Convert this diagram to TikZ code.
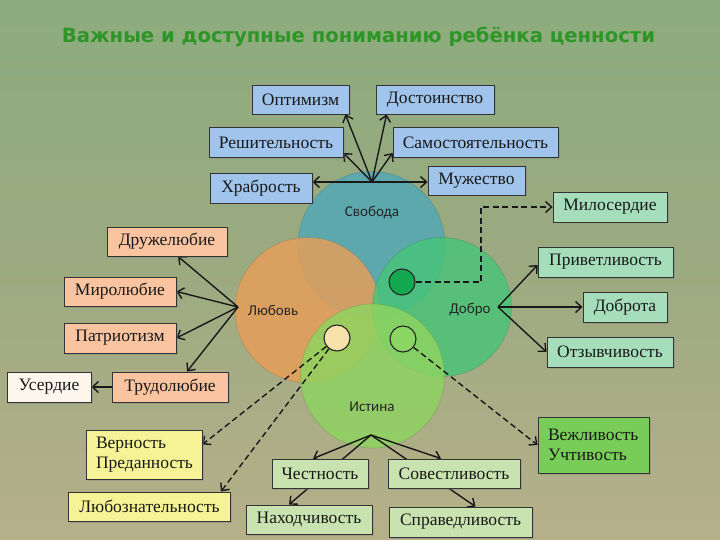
\documentclass[tikz,border=0pt]{standalone}
\usepackage{fontspec}
\setmainfont{Liberation Serif}
\newfontfamily\circfont{Carlito}
\newfontfamily\titlefont{DejaVu Sans}
\usetikzlibrary{arrows.meta,shadows,calc}
\pgfdeclarelayer{circ}
\pgfdeclarelayer{bg}
\pgfsetlayers{circ,bg,main}
\definecolor{bgtop}{RGB}{140,172,126}
\definecolor{bgmid}{RGB}{156,170,128}
\definecolor{bgbot}{RGB}{182,176,138}
\definecolor{titlegreen}{RGB}{46,150,38}
\definecolor{cblue}{RGB}{160,196,236}
\definecolor{cpeach}{RGB}{250,196,160}
\definecolor{ccream}{RGB}{252,246,236}
\definecolor{cmint}{RGB}{166,222,188}
\definecolor{cyellow}{RGB}{246,242,150}
\definecolor{cvgreen}{RGB}{120,204,88}
\definecolor{clgreen}{RGB}{200,226,176}
\definecolor{csvob}{RGB}{80,168,184}
\definecolor{clyub}{RGB}{232,158,88}
\definecolor{cdobr}{RGB}{72,196,120}
\definecolor{cist}{RGB}{142,212,96}
\definecolor{sdark}{RGB}{20,168,80}
\definecolor{sbeige}{RGB}{246,226,170}
\definecolor{slight}{RGB}{140,214,100}
\tikzset{
  box/.style={draw=black!80, line width=0.9pt, minimum height=29pt, inner sep=2pt,
    font=\fontsize{17.5}{20}\selectfont, text=black!90,
    drop shadow={shadow xshift=1.5pt, shadow yshift=-1.5pt, opacity=0.35}},
  bigc/.style={fill opacity=0.82, draw opacity=0.3, line width=0.6pt},
  clabel/.style={font=\circfont\fontsize{15}{17}\selectfont, text=black!85},
  smallc/.style={circle, draw=black!85, line width=1.1pt, minimum size=26pt, inner sep=0pt},
  arr/.style={line width=1.4pt, draw=black!90, -{Straight Barb[length=6pt,width=11pt]}},
  darr/.style={arr, dash pattern=on 6pt off 3.5pt}
}
\begin{document}
\begin{tikzpicture}[x=1pt,y=-1pt]
\useasboundingbox (0,0) rectangle (720,540);
\begin{pgfonlayer}{circ}
\shade[top color=bgtop, bottom color=bgbot, middle color=bgmid] (0,0) rectangle (720,540);
\fill[csvob, bigc, draw=csvob!60!black] (371.5,245) circle[radius=73.5];
\fill[clyub, bigc, draw=clyub!60!black] (307.5,310) circle[radius=72.5];
\fill[cdobr, bigc, draw=cdobr!60!black] (442,307) circle[radius=69.5];
\fill[cist, bigc, draw=cist!60!black] (372.5,376) circle[radius=72];
\node[clabel] (lsvob) at (372,213) {Свобода};
\node[clabel] (llyub) at (273,310) {Любовь};
\node[clabel] (ldobr) at (470,310) {Добро};
\node[clabel] (list) at (372,407) {Истина};
\end{pgfonlayer}

\node[anchor=center] (title) at (358.5,37) {\resizebox{593pt}{!}{\titlefont\bfseries\color{titlegreen}Важные и доступные пониманию ребёнка ценности}};

% small circles
\node[smallc, fill=sdark] (gd) at (402,282) {};
\node[smallc, fill=sbeige] (gb) at (337,338) {};
\node[smallc, fill=slight] (gl) at (403,339) {};

% hubs
\coordinate (hubS) at (372,182);
\coordinate (hubL) at (238,307);
\coordinate (hubD) at (498,307);
\coordinate (hubI) at (371,435);
\coordinate (dk) at (481,207);

% blue boxes
\node[box, fill=cblue, minimum width=97pt] (opt) at (300.5,99.5) {Оптимизм};
\node[box, fill=cblue, minimum width=118pt] (dost) at (435,99.5) {Достоинство};
\node[box, fill=cblue, minimum width=134pt, minimum height=30pt] (resh) at (276,142.5) {Решительность};
\node[box, fill=cblue, minimum width=165pt, minimum height=30pt] (samo) at (475.5,142.5) {Самостоятельность};
\node[box, fill=cblue, minimum width=102pt, minimum height=30pt] (hrab) at (261,188) {Храбрость};
\node[box, fill=cblue, minimum width=97pt] (muzh) at (476.5,180.5) {Мужество};

% peach boxes
\node[box, fill=cpeach, minimum width=120pt] (druzh) at (167,241.5) {Дружелюбие};
\node[box, fill=cpeach, minimum width=112pt] (mir) at (120,291.5) {Миролюбие};
\node[box, fill=cpeach, minimum width=112pt, minimum height=30pt] (patr) at (120,338) {Патриотизм};
\node[box, fill=cpeach, minimum width=116pt, minimum height=30pt] (trud) at (170,387) {Трудолюбие};
\node[box, fill=ccream, minimum width=84pt, minimum height=30pt] (userd) at (49,387) {Усердие};

% mint boxes
\node[box, fill=cmint, minimum width=114pt, minimum height=30pt] (milo) at (610,207) {Милосердие};
\node[box, fill=cmint, minimum width=135pt, minimum height=30pt] (priv) at (605.5,262) {Приветливость};
\node[box, fill=cmint, minimum width=84pt, minimum height=30pt] (dobr) at (625,307) {Доброта};
\node[box, fill=cmint, minimum width=126pt, minimum height=30pt] (otz) at (610,352) {Отзывчивость};

% yellow boxes
\node[box, fill=cyellow, minimum width=116pt, minimum height=49pt, align=left, text width=96pt, inner xsep=10pt, inner ysep=4pt] (vern) at (144,454.5) {Верность\\Преданность};
\node[box, fill=cyellow, minimum width=162pt] (lyub) at (149.5,506.5) {Любознательность};
\node[box, fill=cvgreen, minimum width=111pt, minimum height=56pt, align=left, text width=91pt, inner xsep=10pt, inner ysep=4pt] (vezh) at (593.5,445) {Вежливость\\Учтивость};

% light green boxes
\node[box, fill=clgreen, minimum width=96pt] (chest) at (320,473.5) {Честность};
\node[box, fill=clgreen, minimum width=132pt] (sovest) at (454,473.5) {Совестливость};
\node[box, fill=clgreen, minimum width=126pt] (nakh) at (309,519.5) {Находчивость};
\node[box, fill=clgreen, minimum width=143pt, minimum height=30pt] (sprav) at (460.5,522) {Справедливость};

\begin{pgfonlayer}{bg}
% Svoboda
\draw[arr] (hubS) -- ([xshift=-4pt]opt.south east);
\draw[arr] (hubS) -- ([xshift=11pt]dost.south west);
\draw[arr] (hubS) -- ([yshift=5pt]resh.south east);
\draw[arr] (hubS) -- ([yshift=5pt]samo.south west);
\draw[arr] (hubS) -- (hubS -| hrab.east);
\draw[arr] (hubS) -- (hubS -| muzh.west);
% Lyubov
\draw[arr] (hubL) -- ([xshift=11pt]druzh.south);
\draw[arr] (hubL) -- (mir.east);
\draw[arr] (hubL) -- (patr.east);
\draw[arr] (hubL) -- ([xshift=17pt]trud.north);
\draw[arr] (trud.west) -- (userd.east);
% Dobro
\draw[arr] (hubD) -- ([yshift=-3pt]priv.west);
\draw[arr] (hubD) -- (hubD -| dobr.west);
\draw[arr] (hubD) -- (otz.west);
% Istina
\draw[arr] (hubI) -- ([xshift=-7pt]chest.north);
\draw[arr] (hubI) -- ([xshift=-20pt]nakh.north);
\draw[arr] (hubI) -- ([xshift=-13pt]sovest.north);
\draw[arr] (hubI) -- ([xshift=15pt]sprav.north);
% dashed
\draw[darr] (gd.east) -| (dk) -- (milo.west);
\draw[darr] (gb) -- ([yshift=10pt]vern.east);
\draw[darr] (gb) -- ([xshift=-10pt]lyub.north east);
\draw[darr] (gl) -- (vezh.west);
\end{pgfonlayer}
\end{tikzpicture}
\end{document}
